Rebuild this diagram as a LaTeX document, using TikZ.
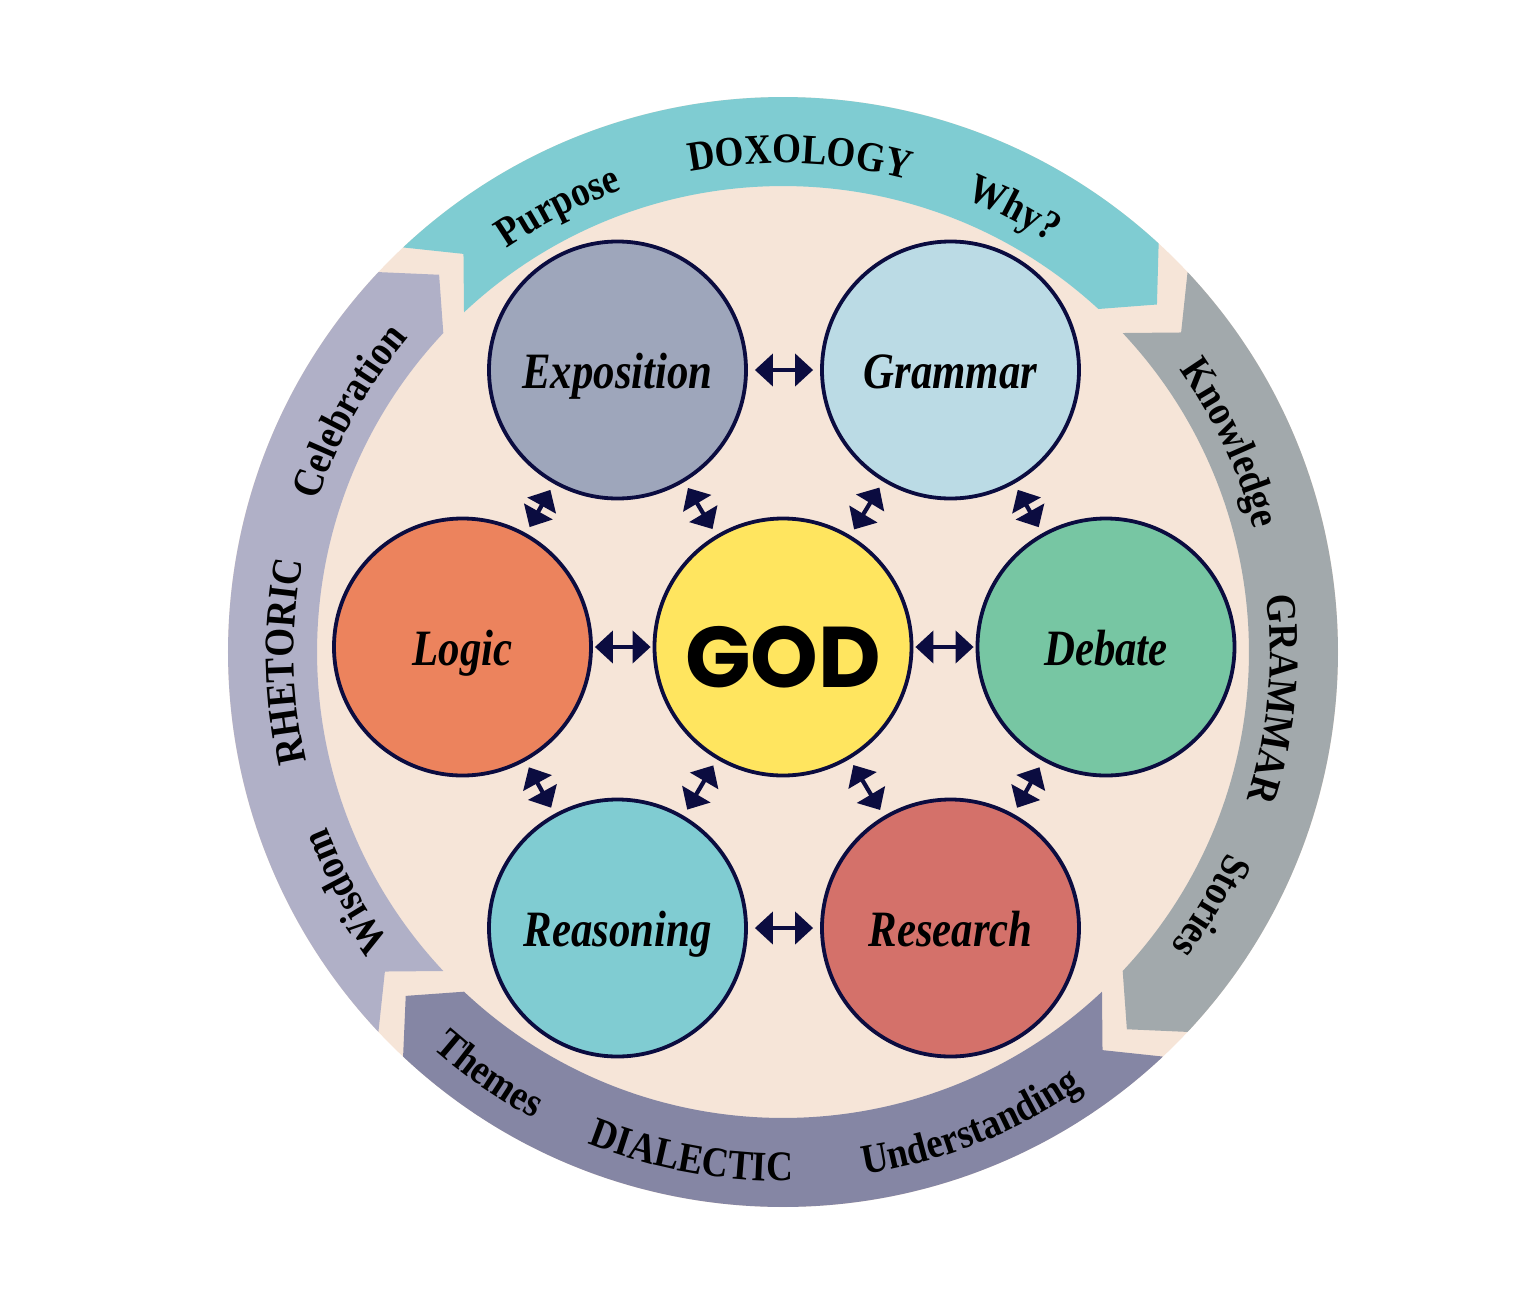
\documentclass[tikz,border=0pt]{standalone}
\usepackage{fontspec}
\usepackage[x11names, rgb]{xcolor}
\usepackage{tikz}
\usetikzlibrary{arrows.meta,decorations.text}

\newfontfamily\bandfont{Liberation Serif}[FakeStretch=0.88]
\newfontfamily\discfont{Liberation Serif}[FakeStretch=0.84]
\newfontfamily\godfont{Poppins}
\newcommand\bandsize{\bandfont\fontsize{12}{14}\selectfont\bfseries}

\definecolor{peach}{HTML}{F6E5D8}
\definecolor{doxoband}{HTML}{7FCCD2}
\definecolor{gramband}{HTML}{A2A9AC}
\definecolor{dialband}{HTML}{8586A4}
\definecolor{rhetband}{HTML}{B0B0C7}
\definecolor{rimnavy}{HTML}{0B0C40}
\definecolor{expofill}{HTML}{9EA6BB}
\definecolor{gramfill}{HTML}{BBDBE5}
\definecolor{logicfill}{HTML}{EC835D}
\definecolor{godfill}{HTML}{FFE55F}
\definecolor{debatefill}{HTML}{77C6A3}
\definecolor{reasonfill}{HTML}{80CCD2}
\definecolor{researchfill}{HTML}{D4716A}

\tikzset{
disc/.style={circle, draw=rimnavy, line width=0.38mm, minimum size=2.57cm, inner sep=0pt, font=\discfont\fontsize{14.5}{16}\selectfont\bfseries\itshape, text height=3.6mm, text depth=0pt}, % the seven discs
link/.style={{Triangle[length=1.8mm,width=3.2mm]}-{Triangle[length=1.8mm,width=3.2mm]}, draw=rimnavy, line width=0.42mm, shorten <=0.2mm, shorten >=0.2mm}, % double headed arrows
slant/.style={shorten <=0.7mm, shorten >=0.7mm}, % the diagonal ones sit shorter
bandtext/.style={decorate, decoration={text along path, text align=center, text={|\bandsize|#1}}} % words on the ring
}

\begin{document}
\begin{tikzpicture}
        \useasboundingbox (-7.83,-6.52) rectangle (7.53,6.52);
        \fill [peach] (0,0) circle (5.55);
        % ring segments, each one a bent chevron (tail notch, tip point)
        \fill [doxoband] (133.2:5.55) arc[start angle=133.2, end angle=47.4, radius=5.55] -- (42.9:5.105) -- (47.4:4.66) arc[start angle=47.4, end angle=133.2, radius=4.66] -- (128.75:5.105) -- cycle;
        \fill [gramband] (43.2:5.55) arc[start angle=43.2, end angle=-43.2, radius=5.55] -- (-47.65:5.105) -- (-43.2:4.66) arc[start angle=-43.2, end angle=43.2, radius=4.66] -- (38.75:5.105) -- cycle;
        \fill [dialband] (-46.8:5.55) arc[start angle=-46.8, end angle=-133.2, radius=5.55] -- (-137.65:5.105) -- (-133.2:4.66) arc[start angle=-133.2, end angle=-46.8, radius=4.66] -- (-51.25:5.105) -- cycle;
        \fill [rhetband] (223.2:5.55) arc[start angle=223.2, end angle=136.8, radius=5.55] -- (132.35:5.105) -- (136.8:4.66) arc[start angle=136.8, end angle=223.2, radius=4.66] -- (218.75:5.105) -- cycle;
        % words along the ring
        \path [bandtext=Purpose] (132.8:4.89) arc[start angle=132.8, end angle=100.8, radius=4.89];
        \path [bandtext=DOXOLOGY] (104:4.89) arc[start angle=104, end angle=72, radius=4.89];
        \path [bandtext=Why?] (78.5:4.89) arc[start angle=78.5, end angle=46.5, radius=4.89];
        \path [bandtext=Knowledge] (41:4.87) arc[start angle=41, end angle=9, radius=4.87];
        \path [bandtext=GRAMMAR] (10.5:4.87) arc[start angle=10.5, end angle=-21.5, radius=4.87];
        \path [bandtext=Stories] (-14.7:4.87) arc[start angle=-14.7, end angle=-46.7, radius=4.87];
        \path [bandtext=Themes] (219.2:5.29) arc[start angle=219.2, end angle=251.2, radius=5.29];
        \path [bandtext=DIALECTIC] (243.7:5.29) arc[start angle=243.7, end angle=275.7, radius=5.29];
        \path [bandtext=Understanding] (275.7:5.29) arc[start angle=275.7, end angle=307.7, radius=5.29];
        \path [bandtext=Wisdom] (224.7:4.89) arc[start angle=224.7, end angle=192.7, radius=4.89];
        \path [bandtext=RHETORIC] (197.1:4.89) arc[start angle=197.1, end angle=165.1, radius=4.89];
        \path [bandtext=Celebration] (167:4.89) arc[start angle=167, end angle=135, radius=4.89];
        % the discs
        \node [disc, fill=godfill, font=\godfont\fontsize{24.5}{28}\selectfont\bfseries, text height=8mm] (GOD) at (0,0.05) {GOD};
        \node [disc, fill=expofill] (Exposition) at (-1.655,2.82) {Exposition};
        \node [disc, fill=gramfill] (Grammar) at (1.675,2.82) {Grammar};
        \node [disc, fill=logicfill] (Logic) at (-3.205,0.05) {Logic};
        \node [disc, fill=debatefill] (Debate) at (3.23,0.05) {Debate};
        \node [disc, fill=reasonfill] (Reasoning) at (-1.655,-2.76) {Reasoning};
        \node [disc, fill=researchfill] (Research) at (1.675,-2.76) {Research};
        % arrows between neighbours
        \draw [link] (Logic) -- (GOD);
        \draw [link] (GOD) -- (Debate);
        \draw [link, shorten <=0.7mm, shorten >=0.7mm] (Exposition) -- (Grammar);
        \draw [link, shorten <=0.7mm, shorten >=0.7mm] (Reasoning) -- (Research);
        \draw [link, slant] (Exposition) -- (GOD);
        \draw [link, slant] (Grammar) -- (GOD);
        \draw [link, slant] (Reasoning) -- (GOD);
        \draw [link, slant] (Research) -- (GOD);
        \draw [link, slant] (Logic) -- (Exposition);
        \draw [link, slant] (Grammar) -- (Debate);
        \draw [link, slant] (Logic) -- (Reasoning);
        \draw [link, slant] (Debate) -- (Research);
\end{tikzpicture}
\end{document}
